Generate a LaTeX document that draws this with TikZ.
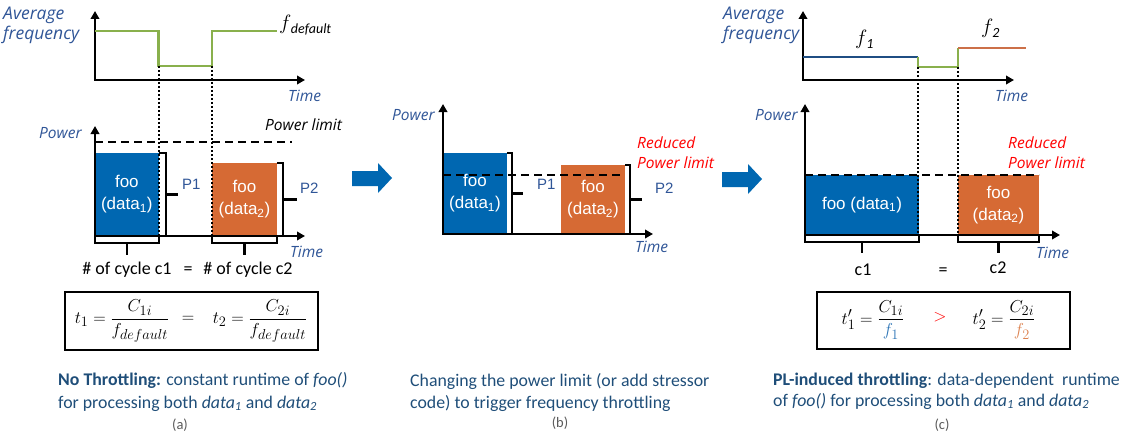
\documentclass[tikz,border=0pt]{standalone}
\usepackage{fontspec}
\usepackage{amsmath}
\setmainfont{Carlito}
\newfontfamily\axf{Open Sans}
\newfontfamily\arf{Liberation Sans}
\usetikzlibrary{arrows.meta,calc}
\definecolor{axblue}{RGB}{47,85,151}
\definecolor{capblue}{RGB}{31,78,121}
\definecolor{boxblue}{RGB}{0,103,177}
\definecolor{boxorange}{RGB}{214,106,52}
\definecolor{fgreen}{RGB}{137,176,76}
\definecolor{fblue}{RGB}{31,78,131}
\definecolor{forange}{RGB}{204,112,72}
\definecolor{eqblue}{RGB}{46,117,182}
\definecolor{eqorange}{RGB}{220,130,80}
\definecolor{capgray}{RGB}{90,90,90}
\begin{document}
\begin{tikzpicture}[x=1pt,y=-1pt,
  axisline/.style={line width=2.8pt,{Triangle[length=8pt,width=8.5pt]}-{Triangle[length=8pt,width=8.5pt]}},
  freq/.style={line width=2.9pt},
  dotl/.style={line width=2.2pt,dash pattern=on 2.2pt off 1.8pt},
  limline/.style={line width=2.5pt,dash pattern=on 8pt off 5pt},
  brk/.style={line width=2.4pt},
  lbl/.style={inner sep=0pt,anchor=base west},
  axlab/.style={lbl,text=axblue,font=\axf\itshape\fontsize{15.5}{17}\selectfont},
  avlab/.style={lbl,text=axblue,font=\axf\itshape\fontsize{17.5}{19}\selectfont},
  redlab/.style={lbl,text=red,font=\axf\itshape\fontsize{15.5}{17}\selectfont},
  plab/.style={lbl,text=axblue,font=\arf\fontsize{15}{17}\selectfont},
  cyc/.style={inner sep=0pt,anchor=base,font=\fontsize{18}{20}\selectfont},
  databox/.style={inner sep=0pt,outer sep=0pt,anchor=south west,text=white,align=center,
    font=\arf\fontsize{17}{22}\selectfont},
  bbox/.style={databox,fill=boxblue},
  obox/.style={databox,fill=boxorange},
  eqbox/.style={draw,line width=1.8pt,inner sep=0pt},
  eqtxt/.style={inner sep=0pt,font=\fontsize{19}{22}\selectfont},
  captxt/.style={lbl,text=capblue,font=\fontsize{17.8}{21}\selectfont},
  subtxt/.style={inner sep=0pt,text=capgray,font=\fontsize{14.5}{16}\selectfont},
  barrow/.style={fill=boxblue}]
\useasboundingbox (0,0) rectangle (1125,436);

% ================= panel (a) =================
\coordinate (afO) at (95,80);
\coordinate (afY) at (95,11);
\coordinate (afX) at (305,80);
\draw[axisline] (afY) -- (afO) -- (afX);
\coordinate (ag1) at (95,31);
\coordinate (ag2) at (158.7,31);
\coordinate (ag3) at (158.7,66);
\coordinate (ag4) at (212,66);
\coordinate (ag5) at (212,31);
\coordinate (ag6) at (277,31);
\draw[freq,fgreen] (ag1) -- (ag2) -- (ag3) -- (ag4) -- (ag5) -- (ag6);
\node[avlab] (aavg) at (3,20) {Average};
\node[avlab] (afrq) at (3,40) {frequency};
\node[lbl,font=\fontsize{20}{22}\selectfont] (afd) at (279,30) {$f$\kern-0.5pt\textsubscript{\itshape default}};
\node[axlab] (atf) at (288,102) {Time};

\coordinate (aO) at (95,236);
\coordinate (aY) at (95,126);
\coordinate (aX) at (305,236);
\node[bbox,minimum width=63.7pt,minimum height=83.3pt] (a1) at (aO) {foo\\(data\textsubscript{1})};
\node[obox,minimum width=65pt,minimum height=73pt] (a2) at (212,236) {foo\\(data\textsubscript{2})};
\draw[axisline] (aY) -- (aO) -- (aX);
\coordinate (alimL) at (95,142);
\coordinate (alimR) at (292,142);
\draw[limline] (alimL) -- (alimR);
\draw[dotl] (ag3) -- (ag3 |- aO);
\draw[dotl] (ag4) -- (ag4 |- aO);
\node[axlab] (apw) at (39,138) {Power};
\node[lbl,font=\axf\itshape\fontsize{15.5}{17}\selectfont] (apl) at (265,130) {Power limit};
\node[axlab] (atp) at (290,257) {Time};
\draw[brk] (a1.north east) -- ++(7.3,0) coordinate (ap1t) -- (ap1t |- aO) coordinate (ap1b);
\draw[brk] ($(ap1t)!0.5!(ap1b)$) -- ++(12,0) coordinate (ap1m);
\node[plab] (ap1) at (182,189) {P1};
\draw[brk] (a2.north east) -- ++(6,0) coordinate (ap2t) -- (ap2t |- aO) coordinate (ap2b) -- (a2.south east);
\draw[brk] ($(ap2t)!0.5!(ap2b)$) -- ++(14,0) coordinate (ap2m);
\node[plab] (ap2) at (300,193) {P2};
\draw[brk] (a1.south west) -- ++(0,7) -- ($(a1.south east)+(0,7)$) -- (a1.south east);
\draw[brk] ($(a1.south)+(0,7)$) -- ++(0,12);
\draw[brk] (a2.south west) -- ++(0,7) -- ($(a2.south east)+(0,7)$) -- (a2.south east);
\draw[brk] ($(a2.south)+(0,7)$) -- ++(0,12);
\node[cyc] (ac1) at (127,274) {\# of cycle c1};
\node[cyc] (aeq) at (188,274) {=};
\node[cyc] (ac2) at (248,274) {\# of cycle c2};
\node[eqbox,minimum width=253pt,minimum height=58pt] (aeqb) at (191.5,321) {};
\node[eqtxt] (ae1) at (122,321) {$t_1=\dfrac{C_{1i}}{f_{default}}$};
\node[eqtxt] (ae0) at (188,319) {$=$};
\node[eqtxt] (ae2) at (260,321) {$t_2=\dfrac{C_{2i}}{f_{default}}$};
\node[captxt] (acap1) at (58,385) {\textbf{No Throttling:} constant runtime of \textit{foo()}};
\node[captxt] (acap2) at (58,408) {for processing both \textit{data\textsubscript{1}} and \textit{data\textsubscript{2}}};
\node[subtxt] (asub) at (180,425) {(a)};

\fill[barrow] (352,171) -- (378,171) -- (378,163) -- (392,178) -- (378,193) -- (378,186) -- (352,186) -- cycle;

% ================= panel (b) =================
\coordinate (bO) at (443,234);
\coordinate (bY) at (443,104);
\coordinate (bX) at (653,234);
\node[bbox,minimum width=64pt,minimum height=81pt] (b1) at (bO) {foo\\(data\textsubscript{1})};
\node[obox,minimum width=64pt,minimum height=69pt] (b2) at (561,234) {foo\\(data\textsubscript{2})};
\draw[axisline] (bY) -- (bO) -- (bX);
\coordinate (blimL) at (443,175);
\coordinate (blimR) at (623,175);
\draw[limline] (blimL) -- (blimR);
\node[axlab] (bpw) at (392,121) {Power};
\node[redlab] (brd) at (637,148) {Reduced};
\node[redlab] (brp) at (637,168) {Power limit};
\node[axlab] (bt) at (635,252) {Time};
\draw[brk] (b1.north east) -- ++(5,0) coordinate (bp1t) -- (bp1t |- bO) coordinate (bp1b);
\draw[brk] ($(bp1t)!0.5!(bp1b)$) -- ++(11,0) coordinate (bp1m);
\node[plab] (bp1) at (537,189) {P1};
\draw[brk] (b2.north east) -- ++(5,0) coordinate (bp2t) -- (bp2t |- bO) coordinate (bp2b) -- (b2.south east);
\draw[brk] ($(bp2t)!0.5!(bp2b)$) -- ++(12,0) coordinate (bp2m);
\node[plab] (bp2) at (655,193) {P2};
\node[captxt] (bcap1) at (410,386) {Changing the power limit (or add stressor};
\node[captxt] (bcap2) at (410,408) {code) to trigger frequency throttling};
\node[subtxt] (bsub) at (560,423) {(b)};

\fill[barrow] (722,172) -- (748,172) -- (748,164) -- (762,179) -- (748,194) -- (748,187) -- (722,187) -- cycle;

% ================= panel (c) =================
\coordinate (cfO) at (803,80);
\coordinate (cfY) at (803,11);
\coordinate (cfX) at (1014,80);
\draw[axisline] (cfY) -- (cfO) -- (cfX);
\coordinate (cg1) at (803,57);
\coordinate (cg2) at (918,57);
\coordinate (cg3) at (918,67);
\coordinate (cg4) at (958,67);
\coordinate (cg5) at (958,48);
\coordinate (cg6) at (1026,48);
\draw[freq,fblue] (cg1) -- (cg2);
\draw[freq,fgreen] (cg2) -- (cg3) -- (cg4) -- (cg5);
\draw[freq,forange] (cg5) -- (cg6);
\node[avlab] (cavg) at (723,20) {Average};
\node[avlab] (cfrq) at (723,40) {frequency};
\node[lbl,font=\fontsize{20}{22}\selectfont] (cf1) at (855,45) {$f$\kern-1pt\textsubscript{\itshape 1}};
\node[lbl,font=\fontsize{20}{22}\selectfont] (cf2) at (981,34) {$f$\kern-1pt\textsubscript{\itshape 2}};
\node[axlab] (ctf) at (995,102) {Time};

\coordinate (cO) at (805,235);
\coordinate (cY) at (805,104);
\coordinate (cX) at (1060,235);
\node[bbox,minimum width=114pt,minimum height=60pt] (c1) at (cO) {foo (data\textsubscript{1})};
\node[obox,minimum width=81pt,minimum height=60pt] (c2) at (958,235) {foo\\(data\textsubscript{2})};
\draw[axisline] (cY) -- (cO) -- (cX);
\coordinate (climL) at (805,175);
\coordinate (climR) at (1039,175);
\draw[limline] (climL) -- (climR);
\draw[dotl] (cg3) -- (cg3 |- cO);
\draw[dotl] (cg4) -- (cg4 |- cO);
\node[axlab] (cpw) at (755,121) {Power};
\node[redlab] (crd) at (1008,148) {Reduced};
\node[redlab] (crp) at (1008,168) {Power limit};
\node[axlab] (ct) at (1036,258) {Time};
\draw[brk] (c1.south west) -- ++(0,7) -- ($(c1.south east)+(0,7)$) -- (c1.south east);
\draw[brk] ($(c1.south)+(0,7)$) -- ++(0,11);
\draw[brk] (c2.south west) -- ++(0,7) -- ($(c2.south east)+(0,7)$) -- (c2.south east);
\draw[brk] ($(c2.south)+(0,7)$) -- ++(0,11);
\node[cyc] (cc1) at (863,275) {c1};
\node[cyc] (ceq) at (943,275) {=};
\node[cyc] (cc2) at (998,273) {c2};
\node[eqbox,minimum width=253pt,minimum height=57pt] (ceqb) at (943.5,320.5) {};
\node[eqtxt] (ce1) at (873,320) {$t'_1=\dfrac{C_{1i}}{\color{eqblue}f_1}$};
\node[eqtxt,text=red] (ce0) at (940,317) {$>$};
\node[eqtxt] (ce2) at (1004,320) {$t'_2=\dfrac{C_{2i}}{\color{eqorange}f_2}$};
\node[captxt] (ccap1) at (773,385) {\textbf{PL-induced throttling}: data-dependent\ \ runtime};
\node[captxt] (ccap2) at (773,406) {of \textit{foo()} for processing both \textit{data\textsubscript{1}} and \textit{data\textsubscript{2}}};
\node[subtxt] (csub) at (942,425) {(c)};
\end{tikzpicture}
\end{document}
